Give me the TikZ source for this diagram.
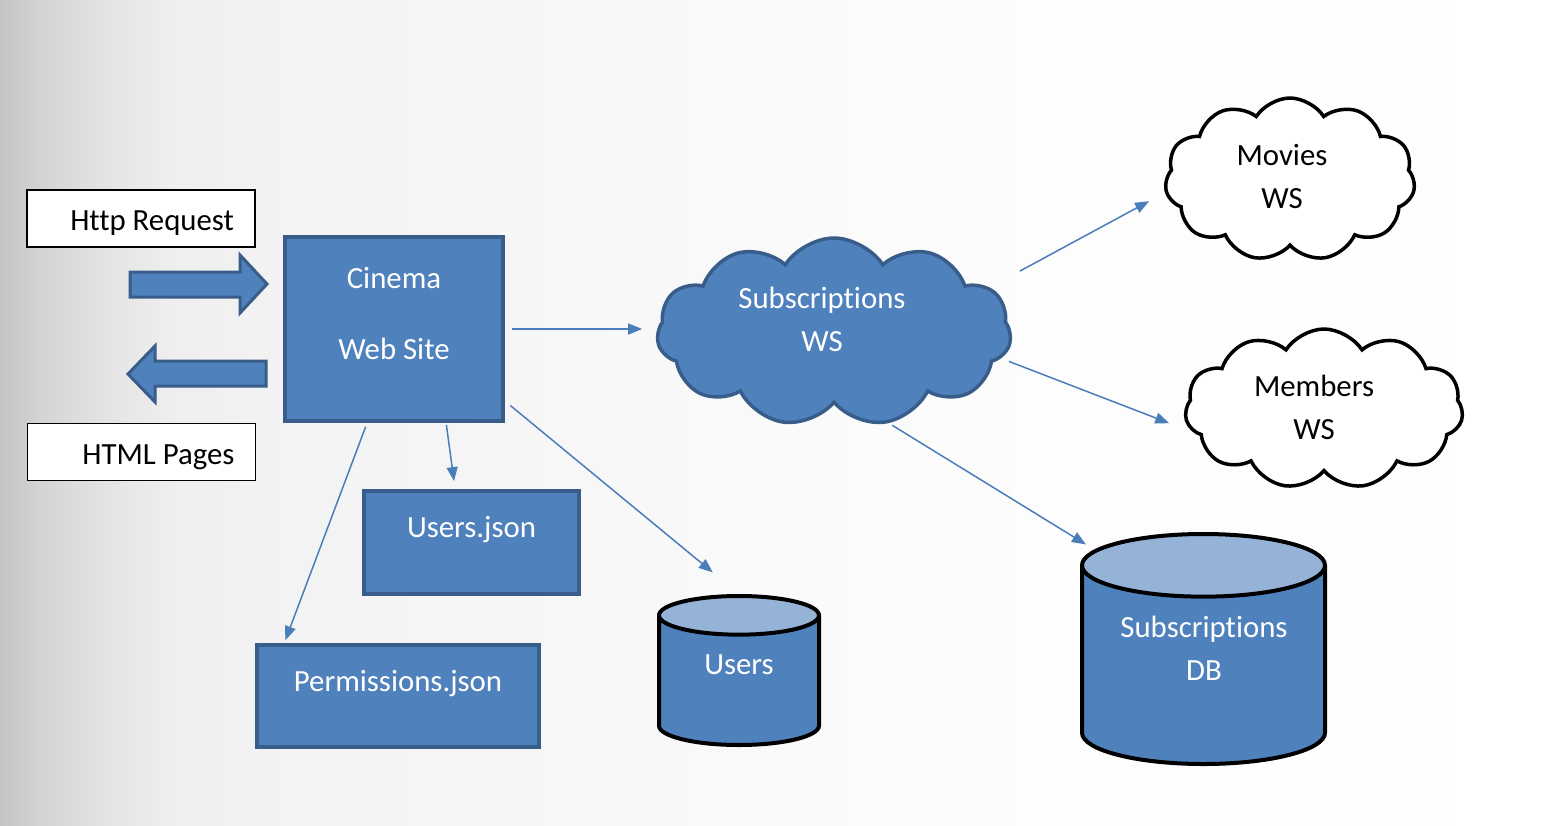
\documentclass[tikz,border=0pt]{standalone}
\usepackage{fontspec}
\setmainfont{Carlito}[Ligatures=NoCommon]
\usetikzlibrary{arrows.meta,calc,positioning,shapes.geometric,shapes.symbols}
\definecolor{office}{HTML}{4F81BD}
\definecolor{officeline}{HTML}{385D8A}
\definecolor{officetop}{HTML}{95B3D7}
\definecolor{linkblue}{HTML}{4A7EBB}
\pgfdeclarehorizontalshading{slide}{100bp}{color(0bp)=(black!23); color(25bp)=(black!23); color(26.3bp)=(black!17); color(28.2bp)=(black!11); color(30.4bp)=(black!6.5); color(33.3bp)=(black!5); color(44bp)=(black!3); color(57bp)=(black!1); color(75bp)=(white); color(100bp)=(white)}
\tikzset{
  every node/.style={font=\fontsize{15.4}{18.5}\selectfont},
  link/.style={draw=linkblue, line width=0.75pt, -{Triangle[length=7pt,width=5.5pt]}},
}

\begin{document}
\begin{tikzpicture}[
    x=0.5pt, y=-0.5pt,
    note/.style={rectangle, draw=black, line width=0.75pt, fill=white,
      minimum height=28.5pt, text width=93pt, inner xsep=10.5pt, align=flush right,
      text height=13pt, text depth=1pt},
    bigarrow/.style={fill=office, draw=officeline, line width=1.5pt, line join=miter},
    store/.style={rectangle, fill=office, draw=officeline, line width=2pt},
    wtext/.style={text=white, inner sep=0pt, align=center},
    btext/.style={text=black, inner sep=0pt, align=center},
    db/.style={cylinder, shape border rotate=90, draw=black, line width=2pt, anchor=south,
      cylinder uses custom fill, cylinder body fill=office, cylinder end fill=officetop},
    service/.style={cloud, cloud puffs=11, cloud puff arc=115, line width=1.75pt},
]
    \useasboundingbox (0,0) rectangle (1563,825);
    \shade[shading=slide] (0,0) rectangle (1563,825);

    % request / response
    \node[note] (httpreq) at (141,218.5) {Http Request};
    \node[note] (htmlpages) at (141.5,452) {HTML Pages};
    \draw[bigarrow] (130,272) -- (240,272) -- (240,255) -- (267,284) -- (240,313) -- (240,297) -- (130,297) -- cycle;
    \draw[bigarrow] (266,361) -- (155,361) -- (155,346) -- (128,374) -- (155,402) -- (155,386) -- (266,386) -- cycle;

    % web site and its files
    \node[store, minimum width=109pt, minimum height=92pt] (cinema) at (394,329) {};
    \node[wtext] (cinemalbl) at ($(cinema.north)+(0,79)$) {Cinema\\[17pt]Web Site};
    \node[store, minimum width=107.5pt, minimum height=51.5pt] (usersjson) at (471.5,542.5) {};
    \node[wtext] (usersjsonlbl) at ($(usersjson.north)+(0,41)$) {Users.json};
    \node[store, minimum width=141pt, minimum height=51pt] (permjson) at (398,696) {};
    \node[wtext] (permjsonlbl) at ($(permjson.north)+(0,41)$) {Permissions.json};

    % databases
    \node[db, minimum width=80pt, minimum height=74.5pt, aspect=2.9] (usersdb) at (739,747) {};
    \node[wtext] (usersdblbl) at (739,665) {Users};
    \node[db, minimum width=121.5pt, minimum height=115pt, aspect=4.7] (subsdb) at (1203.5,766) {};
    \node[wtext] (subsdblbl) at (1204,648.5) {Subscriptions\\[3pt]DB};

    % web services
    \node[service, draw=officeline, fill=office, minimum width=177pt, minimum height=94pt, aspect=1.88] (subws) at (834,332) {};
    \node[wtext] (subwslbl) at (822,319.5) {Subscriptions\\[3pt]WS};
    \node[service, draw=black, fill=white, minimum width=125pt, minimum height=81.5pt, aspect=1.53] (movies) at (1290,179.5) {};
    \node[btext] (movieslbl) at (1282,177) {Movies\\[3pt]WS};
    \node[service, draw=black, fill=white, minimum width=139pt, minimum height=80pt, aspect=1.74] (members) at (1324,409) {};
    \node[btext] (memberslbl) at (1314,407.5) {Members\\[3pt]WS};

    \draw[link, shorten <=3.5pt, shorten >=7pt] (cinema.east) -- (cinema.east -| subws.west);
    \draw[link, shorten <=3.5pt, shorten >=17pt] (cinema.-33) -- (usersdb.north);
    \draw[link, shorten <=1pt, shorten >=4pt] (cinema.-61.5) -- (usersjson.107);
    \draw[link, shorten <=2pt, shorten >=1.5pt] (cinema.-106) -- (permjson.155);
    \draw[link, shorten <=17pt, shorten >=9pt] (subws.16) -- (movies.186);
    \draw[link, shorten <=4pt, shorten >=12.5pt] (subws.-9) -- (members.190);
    \draw[link, shorten <=2pt, shorten >=5pt] (subws.-59) -- (subsdb.132);
\end{tikzpicture}
\end{document}
